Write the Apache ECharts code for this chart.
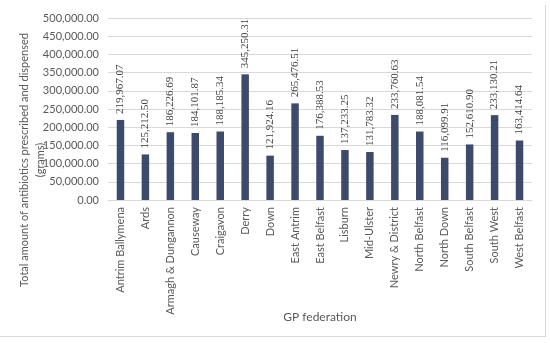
<!DOCTYPE html>
<html>
<head>
<meta charset="utf-8">
<script src="https://cdn.jsdelivr.net/npm/echarts@6/dist/echarts.min.js"></script>
<style>
html,body{margin:0;padding:0;background:#fff;}
#c{width:550px;height:343px;}
</style>
</head>
<body>
<div id="c"></div>
<script>
var categories = ["Antrim Ballymena","Ards","Armagh & Dungannon","Causeway","Craigavon","Derry","Down","East Antrim","East Belfast","Lisburn","Mid-Ulster","Newry & District","North Belfast","North Down","South Belfast","South West","West Belfast"];
var values = [219967.07,125212.50,186226.69,184101.87,188185.34,345250.31,121924.16,265476.51,176388.53,137233.25,131783.32,233760.63,188081.54,116099.91,152610.90,233130.21,163414.64];
var yTitle = ["Total amount of antibiotics prescribed and dispensed", "(grams)"];
var xTitle = "GP federation";

function fmt(v){
  return v.toLocaleString('en-US',{minimumFractionDigits:2,maximumFractionDigits:2});
}
var chart = echarts.init(document.getElementById('c'));
chart.setOption({
  animation:false,
  grid:{left:108,right:18,top:18,bottom:143,containLabel:false},
  xAxis:{
    type:'category',data:categories,
    axisLine:{lineStyle:{color:'#d9d9d9'}},
    axisTick:{show:false},
    axisLabel:{rotate:90,interval:0,color:'#595959',fontFamily:'Lato',fontSize:11,margin:7}
  },
  yAxis:{
    type:'value',min:0,max:500000,interval:50000,
    axisLine:{show:false},axisTick:{show:false},
    splitLine:{lineStyle:{color:'#d9d9d9'}},
    axisLabel:{formatter:fmt,color:'#595959',fontFamily:'Lato',fontSize:11,margin:9}
  },
  series:[{
    type:'bar',data:values,barWidth:'30%',
    itemStyle:{color:'#3c4a6b'},
    label:{show:true,position:'top',rotate:90,align:'left',verticalAlign:'middle',distance:6,
      formatter:function(p){return fmt(p.value);},
      color:'#404040',fontFamily:'Liberation Sans Narrow',fontSize:11}
  }],
  graphic:[
    {type:'text',rotation:Math.PI/2,x:24,y:160,style:{text:yTitle[0],fill:'#595959',font:'11px Lato',textAlign:'center',textVerticalAlign:'middle'}},
    {type:'text',rotation:Math.PI/2,x:40,y:160,style:{text:yTitle[1],fill:'#595959',font:'11px Lato',textAlign:'center',textVerticalAlign:'middle'}},
    {type:'text',x:320,y:317,style:{text:xTitle,fill:'#595959',font:'12px Lato',textAlign:'center',textVerticalAlign:'middle'}},
    {type:'line',shape:{x1:0,y1:336.5,x2:545,y2:336.5},style:{stroke:'#d9d9d9',lineWidth:1}},
    {type:'line',shape:{x1:545.5,y1:5,x2:545.5,y2:337},style:{stroke:'#d9d9d9',lineWidth:1}}
  ]
});
</script>
</body>
</html>
